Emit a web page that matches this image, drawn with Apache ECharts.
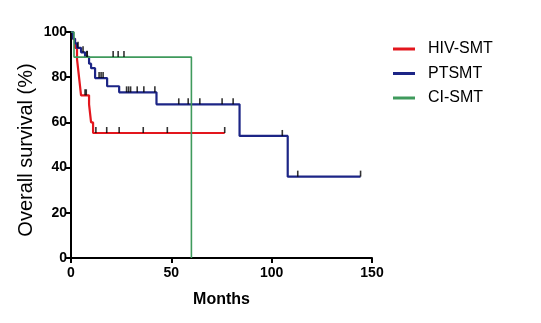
<!DOCTYPE html>
<html><head><meta charset="utf-8">
<script src="https://cdn.jsdelivr.net/npm/echarts@6/dist/echarts.min.js"></script>
<style>html,body{margin:0;padding:0;background:#fff}#c{width:541px;height:323px}</style>
</head><body><div id="c"></div>
<script>
// Kaplan-Meier step data (months, survival %)
var hivTimes = [0, 1, 2, 3, 3.5, 4, 4.5, 5, 9, 9.5, 10, 11, 76.6];
var hivSurv  = [100, 97, 93, 88, 84, 80, 76, 72, 68, 64, 60, 55.3, 55.3];
var hivCensT = [7, 7.6, 12.4, 17.8, 24, 36, 48, 76.6];
var hivCensS = [72, 72, 55.3, 55.3, 55.3, 55.3, 55.3, 55.3];

var ptTimes = [0, 1, 2, 3, 5, 7, 9, 10, 12, 18, 24, 42.6, 84, 108, 144.3];
var ptSurv  = [100, 97, 95, 93, 91, 89, 86, 84, 79.6, 76, 73.3, 68, 54, 36, 36];
var ptCensT = [3.5, 6, 8, 14, 15, 16, 27.7, 28.7, 29.7, 33, 36.3, 41.8, 53.7, 58.4, 64.2, 75.3, 80.8, 105.3, 113, 144.3];
var ptCensS = [93, 91, 89, 79.6, 79.6, 79.6, 73.3, 73.3, 73.3, 73.3, 73.3, 73.3, 68, 68, 68, 68, 68, 54, 36, 36];

var ciTimes = [0, 1.5, 60];
var ciSurv  = [100, 88.9, 0];
var ciCensT = [8, 21, 23.5, 26.4];
var ciCensS = [88.9, 88.9, 88.9, 88.9];

var seriesNames = ['HIV-SMT', 'PTSMT', 'CI-SMT'];
var xTicks = [0, 50, 100, 150];
var yTicks = [0, 20, 40, 60, 80, 100];

function zip(a, b) { return a.map(function (v, i) { return [v, b[i]]; }); }

var colors = ['#e3161d', '#1c2586', '#3f9a5c'];
var lineData = [zip(hivTimes, hivSurv), zip(ptTimes, ptSurv), zip(ciTimes, ciSurv)];
var censData = [zip(hivCensT, hivCensS), zip(ptCensT, ptCensS), zip(ciCensT, ciCensS)];

var series = [];
[0, 1, 2].forEach(function (i) {
  series.push({
    name: seriesNames[i], type: 'line', step: 'end', data: lineData[i],
    showSymbol: false, symbol: 'none', color: colors[i],
    lineStyle: { color: colors[i], width: i === 2 ? 1.6 : 2.2 },
    z: i === 2 ? 4 : 3, silent: true
  });
});
[0, 1, 2].forEach(function (i) {
  series.push({
    name: seriesNames[i] + ' censored', type: 'scatter', data: censData[i],
    symbol: 'rect', symbolSize: [1.6, 6], symbolOffset: [0, -3],
    itemStyle: { color: '#000' }, z: 5, silent: true
  });
});

var chart = echarts.init(document.getElementById('c'));
chart.setOption({
  animation: false,
  grid: { left: 71, right: 169, top: 32, bottom: 65, containLabel: false },
  xAxis: {
    type: 'value', min: 0, max: 150, interval: 50,
    name: 'Months', nameLocation: 'middle', nameGap: 34, nameMoveOverlap: false,
    nameTextStyle: { fontFamily: 'Liberation Sans', fontWeight: 'bold', fontSize: 16, color: '#000' },
    axisLine: { show: true, lineStyle: { color: '#000', width: 2 } },
    axisTick: { show: true, length: 5, lineStyle: { color: '#000', width: 2 } },
    axisLabel: { fontFamily: 'Liberation Sans', fontWeight: 'bold', fontSize: 14, color: '#000', margin: 8,
      formatter: function (v) { return xTicks.indexOf(v) >= 0 ? String(v) : ''; } },
    splitLine: { show: false }
  },
  yAxis: {
    type: 'value', min: 0, max: 100, interval: 20,
    name: 'Overall survival (%)', nameLocation: 'middle', nameGap: 35, nameRotate: 90, nameMoveOverlap: false,
    nameTextStyle: { fontFamily: 'Liberation Sans', fontSize: 20, color: '#000', padding: [0, 10, 0, 0] },
    axisLine: { show: true, lineStyle: { color: '#000', width: 2 } },
    axisTick: { show: true, length: 5, lineStyle: { color: '#000', width: 2 } },
    axisLabel: { fontFamily: 'Liberation Sans', fontWeight: 'bold', fontSize: 14, color: '#000', margin: 4,
      formatter: function (v) { return yTicks.indexOf(v) >= 0 ? String(v) : ''; } },
    splitLine: { show: false }
  },
  legend: {
    data: seriesNames, orient: 'vertical', left: 388, top: 36,
    itemWidth: 22, itemHeight: 3, itemGap: 8.5, icon: 'rect',
    textStyle: { fontFamily: 'Liberation Sans', fontSize: 16, color: '#000', padding: [0, 0, 0, 8] }
  },
  series: series
});
</script></body></html>
